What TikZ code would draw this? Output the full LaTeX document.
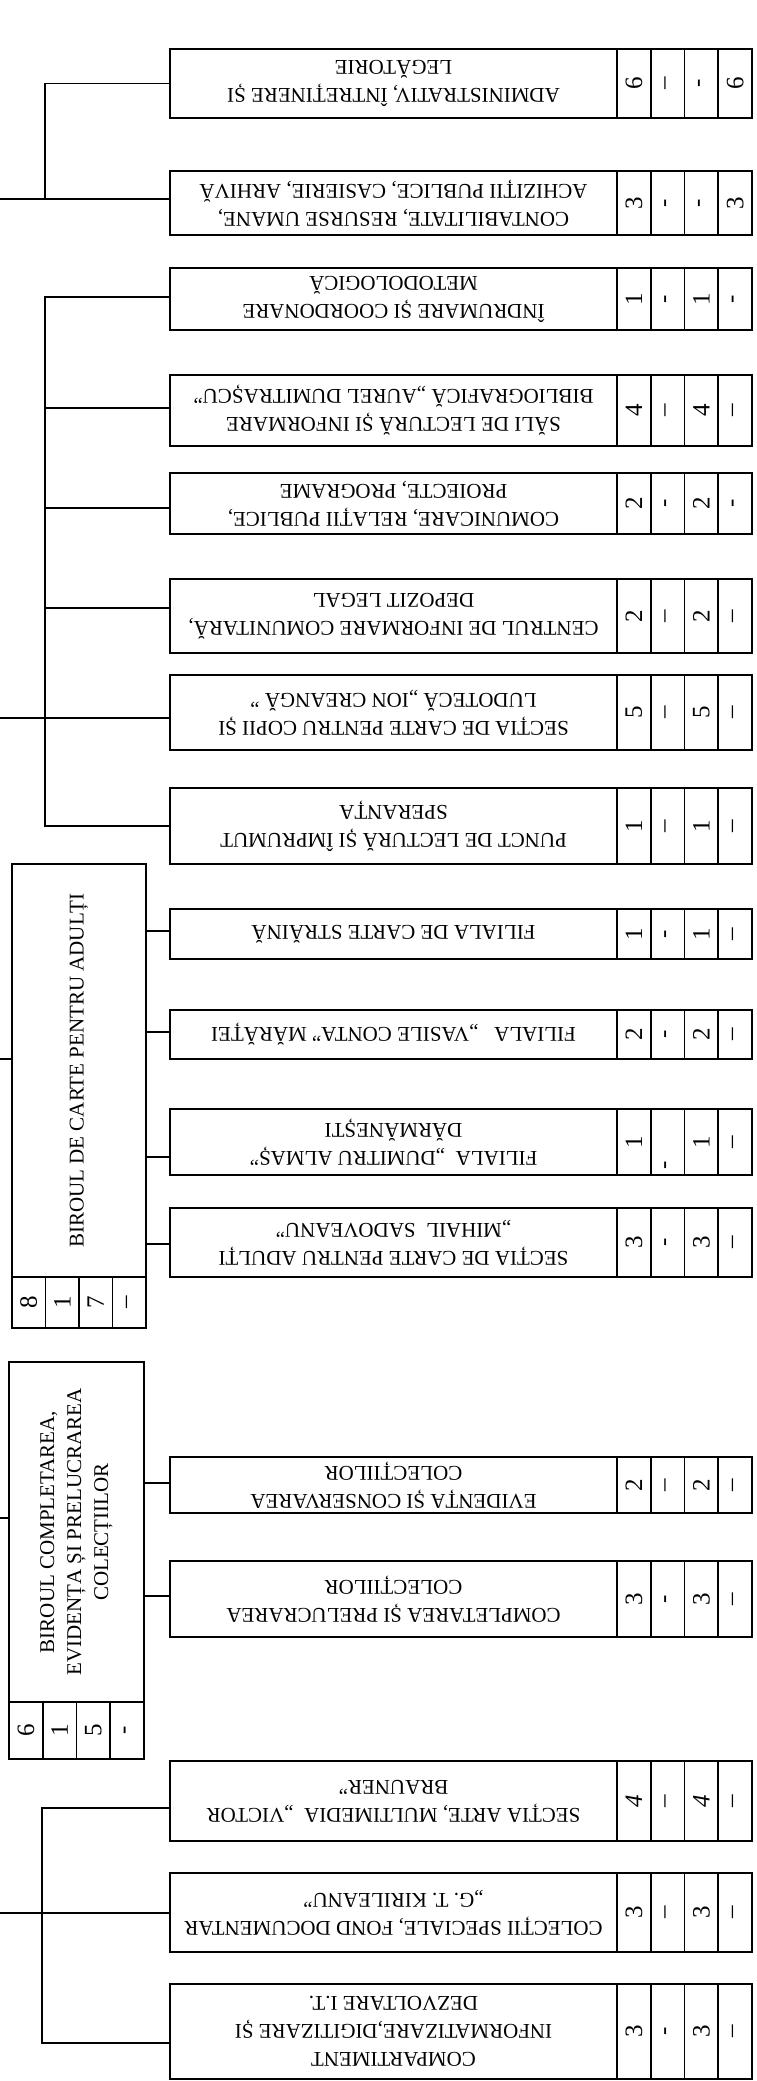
\documentclass[tikz,border=0pt]{standalone}
\usepackage{fontspec}
\setmainfont{Liberation Serif}
\tikzset{
  tbox/.style={draw, line width=1.7pt, minimum width=447pt, inner sep=0pt, align=center, font=\fontsize{21}{28}\selectfont},
  cellbox/.style={draw, line width=1.7pt, minimum width=33.75pt, inner sep=0pt, font=\fontsize{25}{28}\selectfont},
  birou/.style={draw, line width=1.7pt, inner sep=0pt, align=center, rotate=90, font=\fontsize{21}{27}\selectfont},
  conn/.style={line width=1.5pt},
}
\newcommand{\orgbox}[8]{%
  \pgfmathsetmacro{\yM}{(#2+#3)/2}%
  \pgfmathsetmacro{\hH}{#3-#2}%
  \node[tbox, minimum height=\hH pt, rotate=180] (#1) at (393.5,\yM) {#4};
  \node[cellbox, minimum height=\hH pt] (#1-1) at (633.875,\yM) {\rotatebox{90}{#5}};
  \node[cellbox, minimum height=\hH pt] (#1-2) at (667.625,\yM) {\rotatebox{90}{#6}};
  \node[cellbox, minimum height=\hH pt] (#1-3) at (701.375,\yM) {\rotatebox{90}{#7}};
  \node[cellbox, minimum height=\hH pt] (#1-4) at (735.125,\yM) {\rotatebox{90}{#8}};
}
\begin{document}
\begin{tikzpicture}[x=1pt,y=-1pt]
\fill[white] (0,0) rectangle (756,2081);
\useasboundingbox (0,0) rectangle (756,2081);

\orgbox{b1}{49}{118}{ADMINISTRATIV, ÎNTREȚINERE ȘI\\LEGĂTORIE}{6}{–}{-}{6}
\orgbox{b2}{171}{235}{CONTABILITATE, RESURSE UMANE,\\ACHIZIȚII PUBLICE, CASIERIE, ARHIVĂ}{3}{-}{-}{3}
\orgbox{b3}{268}{330}{ÎNDRUMARE ȘI COORDONARE\\METODOLOGICĂ}{1}{-}{1}{-}
\orgbox{b4}{375}{446}{SĂLI DE LECTURĂ ȘI INFORMARE\\BIBLIOGRAFICĂ „AUREL DUMITRAȘCU”}{4}{–}{4}{–}
\orgbox{b5}{473}{534}{COMUNICARE, RELAȚII PUBLICE,\\PROIECTE, PROGRAME}{2}{-}{2}{-}
\orgbox{b6}{579}{653}{CENTRUL DE INFORMARE COMUNITARĂ,\\DEPOZIT LEGAL}{2}{–}{2}{–}
\orgbox{b7}{675}{750}{SECȚIA DE CARTE PENTRU COPII ȘI\\LUDOTECĂ „ION CREANGĂ ”}{5}{–}{5}{–}
\orgbox{b8}{788}{864}{PUNCT DE LECTURĂ ȘI ÎMPRUMUT\\SPERANȚA}{1}{–}{1}{–}
\orgbox{b9}{909}{959}{FILIALA DE CARTE STRĂINĂ}{1}{-}{1}{–}
\orgbox{b10}{1010}{1059}{FILIALA \ \ „VASILE CONTA” MĂRĂȚEI}{2}{-}{2}{–}
\orgbox{b11}{1109}{1175}{FILIALA \ „DUMITRU ALMAȘ”\\DĂRMĂNEȘTI}{1}{\makebox[54pt][l]{-}}{1}{–}
\orgbox{b12}{1208}{1277}{SECȚIA DE CARTE PENTRU ADULȚI\\„MIHAIL \ SADOVEANU”}{3}{-}{3}{–}
\orgbox{b13}{1457}{1513}{EVIDENȚA ȘI CONSERVAREA\\COLECȚIILOR}{2}{–}{2}{–}
\orgbox{b14}{1561}{1637}{COMPLETAREA ȘI PRELUCRAREA\\COLECȚIILOR}{3}{-}{3}{–}
\orgbox{b15}{1761}{1841}{SECȚIA ARTE, MULTIMEDIA \ „VICTOR\\BRAUNER”}{\textit{4}}{–}{\textit{4}}{–}
\orgbox{b16}{1873}{1952}{COLECȚII SPECIALE, FOND DOCUMENTAR\\„G. T. KIRILEANU”}{3}{–}{3}{–}
\orgbox{b17}{1984}{2079}{COMPARTIMENT\\INFORMATIZARE,DIGITIZARE ȘI\\DEZVOLTARE I.T.}{3}{-}{3}{–}

% Birou de carte pentru adulti
\node[birou, minimum width=413pt, minimum height=134pt] (bA) at (79,1070.5) {BIROUL DE CARTE PENTRU ADULȚI};
\node[cellbox, minimum width=33.5pt, minimum height=51pt] (bA-1) at (28.75,1302.5) {\rotatebox{90}{8}};
\node[cellbox, minimum width=33.5pt, minimum height=51pt] (bA-2) at (62.25,1302.5) {\rotatebox{90}{1}};
\node[cellbox, minimum width=33.5pt, minimum height=51pt] (bA-3) at (95.75,1302.5) {\rotatebox{90}{7}};
\node[cellbox, minimum width=33.5pt, minimum height=51pt] (bA-4) at (129.25,1302.5) {\rotatebox{90}{–}};

% Birou completarea
\node[birou, minimum width=340pt, minimum height=135pt] (bB) at (76.5,1532) {BIROUL COMPLETAREA,\\EVIDENȚA ȘI PRELUCRAREA\\COLECȚIILOR};
\node[cellbox, minimum width=33.75pt, minimum height=57pt] (bB-1) at (25.875,1730.5) {\rotatebox{90}{6}};
\node[cellbox, minimum width=33.75pt, minimum height=57pt] (bB-2) at (59.625,1730.5) {\rotatebox{90}{1}};
\node[cellbox, minimum width=33.75pt, minimum height=57pt] (bB-3) at (93.375,1730.5) {\rotatebox{90}{5}};
\node[cellbox, minimum width=33.75pt, minimum height=57pt] (bB-4) at (127.125,1730.5) {\rotatebox{90}{-}};

% Group A
\coordinate (A0) at (0,199);
\coordinate (Av) at (45,199);
\draw[conn] (A0) -- (b2.east |- A0);
\draw[conn] (b1.east) -| (Av);

% Group B
\coordinate (B0) at (0,718);
\coordinate (Bt) at (45,297);
\coordinate (B4) at (45,408);
\coordinate (B5) at (45,508);
\coordinate (B6) at (45,608);
\coordinate (Bb) at (45,826);
\draw[conn] (b3.east |- Bt) -- (Bt) -- (Bb) -- (b8.east |- Bb);
\draw[conn] (B4) -- (b4.east |- B4);
\draw[conn] (B5) -- (b5.east |- B5);
\draw[conn] (B6) -- (b6.east |- B6);
\draw[conn] (B0) -- (b7.east |- B0);

% Group C
\coordinate (C0) at (0,1059);
\coordinate (C9) at (146,931);
\coordinate (C10) at (146,1032);
\coordinate (C11) at (146,1157);
\coordinate (C12) at (146,1244);
\draw[conn] (C0) -- (bA.north |- C0);
\draw[conn] (C9) -- (b9.east |- C9);
\draw[conn] (C10) -- (b10.east |- C10);
\draw[conn] (C11) -- (b11.east |- C11);
\draw[conn] (C12) -- (b12.east |- C12);

% Group D
\coordinate (D0) at (0,1518);
\coordinate (D13) at (144,1483);
\coordinate (D14) at (144,1596);
\draw[conn] (D0) -- (bB.north |- D0);
\draw[conn] (D13) -- (b13.east |- D13);
\draw[conn] (D14) -- (b14.east |- D14);

% Group E
\coordinate (E0) at (0,1913);
\coordinate (Et) at (42,1808);
\coordinate (Eb) at (42,2043);
\draw[conn] (E0) -- (b16.east |- E0);
\draw[conn] (b15.east |- Et) -- (Et) -- (Eb) -- (b17.east |- Eb);
\end{tikzpicture}
\end{document}
